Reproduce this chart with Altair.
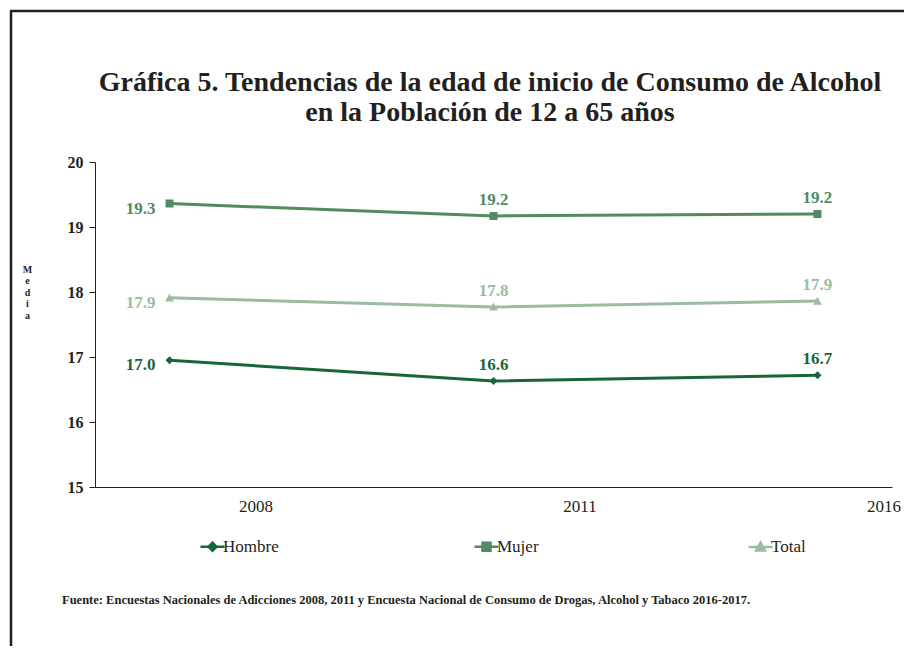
import altair as alt
import pandas as pd

years = ["2008", "2011", "2016"]
series = ["Hombre", "Mujer", "Total"]
hombre = [16.95, 16.63, 16.72]
mujer = [19.36, 19.17, 19.2]
total = [17.91, 17.77, 17.86]
hombre_lbl = ["17.0", "16.6", "16.7"]
mujer_lbl = ["19.3", "19.2", "19.2"]
total_lbl = ["17.9", "17.8", "17.9"]
colors = ["#17663a", "#528a62", "#9dbb9f"]
title_line1 = "Gráfica 5. Tendencias de la edad de inicio de Consumo de Alcohol"
title_line2 = "en la Población de 12 a 65 años"
y_title = ["M", "e", "d", "i", "a"]
footer = "Fuente: Encuestas Nacionales de Adicciones 2008, 2011 y Encuesta Nacional de Consumo de Drogas, Alcohol y Tabaco 2016-2017."

rows = []
for s, vals, lbls in [("Hombre", hombre, hombre_lbl), ("Mujer", mujer, mujer_lbl), ("Total", total, total_lbl)]:
    for i, (y, v, l) in enumerate(zip(years, vals, lbls)):
        rows.append({"year": y, "serie": s, "value": v, "label": l, "idx": i})
df = pd.DataFrame(rows)

FONT = "Liberation Serif"
INK = "#231f20"

# custom symbols: marker + horizontal line segment (line only visible in the legend via stroke)
shapes = [
    "M-3,0H3M0,-1L1,0L0,1L-1,0Z",
    "M-3,0H3M-1,-1H1V1H-1Z",
    "M-3,0H3M0,-1.1L1.1,0.9H-1.1Z",
]

xenc = alt.X("year:N", sort=years, scale=alt.Scale(type="point", padding=0.23),
             axis=alt.Axis(title=None, labelAngle=0,
                           labelOffset={"condition": {"test": "datum.value == '2016'", "value": 66}, "value": 86},
                           labelPadding=11, ticks=False,
                           labelFont=FONT, labelFontSize=17, labelColor=INK,
                           domainColor=INK, labelFontWeight="normal"))
yenc = alt.Y("value:Q", scale=alt.Scale(domain=[15, 20], nice=False, zero=False),
             axis=alt.Axis(values=[15, 16, 17, 18, 19, 20], format="d", grid=False,
                           title=y_title, titleAngle=0, titleFont=FONT, titleFontSize=10,
                           titleFontWeight="bold", titleLineHeight=11.5, titleX=-68, titleY=102,
                           titleAlign="center", titleBaseline="top", titleColor=INK,
                           labelFont=FONT, labelFontSize=16, labelFontWeight="bold",
                           labelColor=INK, labelPadding=6, tickSize=6,
                           domainColor=INK, tickColor=INK))

color_scale = alt.Scale(domain=series, range=colors)

base = alt.Chart(df)

lines = base.mark_line(strokeWidth=3).encode(
    x=xenc, y=yenc,
    color=alt.Color("serie:N", scale=color_scale, legend=None),
    detail="serie:N",
)

points = base.mark_point(filled=True, size=64, opacity=1, strokeWidth=0).encode(
    x=alt.X("year:N", sort=years), y="value:Q",
    color=alt.Color("serie:N", scale=color_scale,
                    legend=alt.Legend(title=None, orient="none", legendX=109, legendY=376,
                                      direction="horizontal", columnPadding=190, gridAlign="all",
                                      labelFont=FONT, labelFontSize=17, labelColor=INK,
                                      symbolStrokeWidth=2.5, symbolSize=64, labelOffset=2)),
    stroke=alt.Stroke("serie:N", scale=color_scale),
    shape=alt.Shape("serie:N", scale=alt.Scale(domain=series, range=shapes)),
)

labels_first = base.transform_filter("datum.idx == 0").mark_text(
    align="right", baseline="middle", dx=-14, dy=5, font=FONT, fontSize=17, fontWeight="bold"
).encode(x=alt.X("year:N", sort=years), y="value:Q", text="label:N",
         color=alt.Color("serie:N", scale=color_scale, legend=None))

labels_rest = base.transform_filter("datum.idx > 0").mark_text(
    align="center", baseline="bottom", dy=-7, font=FONT, fontSize=17, fontWeight="bold"
).encode(x=alt.X("year:N", sort=years), y="value:Q", text="label:N",
         color=alt.Color("serie:N", scale=color_scale, legend=None))

title1 = alt.Chart(pd.DataFrame({"t": [title_line1]})).mark_text(
    align="center", baseline="middle", font=FONT, fontSize=28, fontWeight="bold", color=INK
).encode(x=alt.value(395), y=alt.value(-79), text="t:N")
title2 = alt.Chart(pd.DataFrame({"t": [title_line2]})).mark_text(
    align="center", baseline="middle", font=FONT, fontSize=28, fontWeight="bold", color=INK
).encode(x=alt.value(395), y=alt.value(-49), text="t:N")

foot = alt.Chart(pd.DataFrame({"t": [footer]})).mark_text(
    align="left", baseline="middle", font=FONT, fontSize=12.5, fontWeight="bold", color=INK
).encode(x=alt.value(-33), y=alt.value(438), text="t:N")

frame_left = alt.Chart(pd.DataFrame({"a": [0]})).mark_rule(strokeWidth=2.5, color=INK).encode(
    x=alt.value(-84), y=alt.value(-151), y2=alt.value(500))
frame_top = alt.Chart(pd.DataFrame({"a": [0]})).mark_rule(strokeWidth=2.5, color=INK).encode(
    x=alt.value(-85), x2=alt.value(830), y=alt.value(-151))

chart = alt.layer(lines, points, labels_first, labels_rest, title1, title2, foot,
                  frame_left, frame_top).resolve_legend(
    color="independent", stroke="independent", shape="independent"
).properties(
    width=797, height=325,
    autosize=alt.AutoSizeParams(type="none"),
    padding={"left": 87, "top": 154, "right": 12, "bottom": 159},
).configure(background="white").configure_view(stroke=None)

chart.save("out.html", embed_options={"renderer": "svg", "actions": False})
